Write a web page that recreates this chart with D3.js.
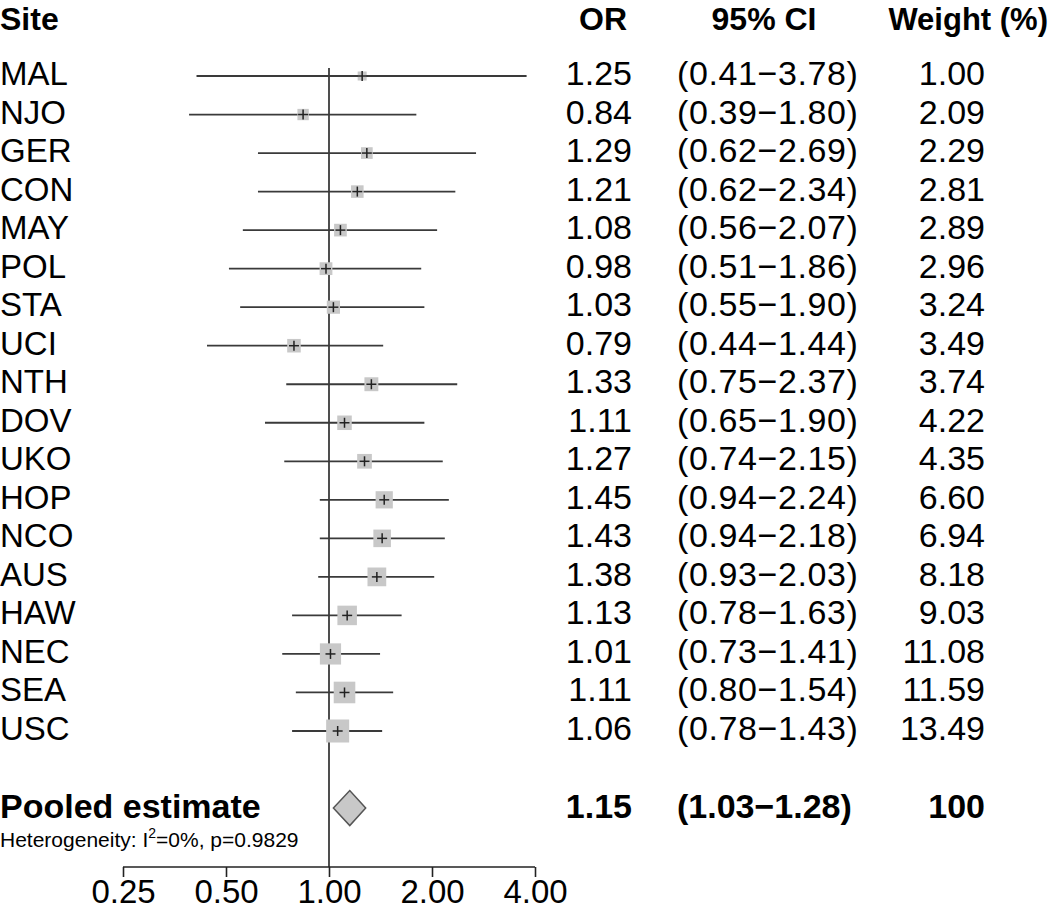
<!DOCTYPE html>
<html><head><meta charset="utf-8">
<script src="https://cdn.jsdelivr.net/npm/d3@7"></script>
<style>html,body{margin:0;padding:0;background:#fff;}svg{display:block;font-family:"Liberation Sans",Arial,Helvetica,sans-serif;}</style>
</head><body>
<svg id="c" width="1050" height="912"></svg>
<script>
const sites = ["MAL","NJO","GER","CON","MAY","POL","STA","UCI","NTH","DOV","UKO","HOP","NCO","AUS","HAW","NEC","SEA","USC"];
const oddsRatios = [1.25,0.84,1.29,1.21,1.08,0.98,1.03,0.79,1.33,1.11,1.27,1.45,1.43,1.38,1.13,1.01,1.11,1.06];
const lowerCI = [0.41,0.39,0.62,0.62,0.56,0.51,0.55,0.44,0.75,0.65,0.74,0.94,0.94,0.93,0.78,0.73,0.80,0.78];
const upperCI = [3.78,1.80,2.69,2.34,2.07,1.86,1.90,1.44,2.37,1.90,2.15,2.24,2.18,2.03,1.63,1.41,1.54,1.43];
const weights = [1.00,2.09,2.29,2.81,2.89,2.96,3.24,3.49,3.74,4.22,4.35,6.60,6.94,8.18,9.03,11.08,11.59,13.49];
const pooled = {label:"Pooled estimate", or:1.15, lo:1.03, hi:1.28, weight:"100"};
const heterogeneity = {i2:"0%", p:"0.9829"};
const headers = ["Site","OR","95% CI","Weight (%)"];
const xTicks = [0.25,0.5,1,2,4];

const svg = d3.select("#c");
const x = d3.scaleLog().base(2).domain([0.25,4]).range([123,535]);
const y = d3.scaleLinear().domain([0,17]).range([76,731]);
const pooledY = y(19);
const box = d3.scaleSqrt().domain([1,13.49]).range([9,23]);
const f2 = d3.format(".2f");

// headers
const hdr = svg.append("g").attr("font-weight","bold").attr("font-size",32).attr("fill","#000");
hdr.append("text").attr("x",0).attr("y",30).text(headers[0]);
hdr.append("text").attr("x",603).attr("y",30).attr("text-anchor","middle").text(headers[1]);
hdr.append("text").attr("x",764).attr("y",30).attr("text-anchor","middle").text(headers[2]);
hdr.append("text").attr("x",1048).attr("y",30).attr("text-anchor","end").attr("font-size",31).text(headers[3]);

// reference line at 1
svg.append("line").attr("x1",x(1)).attr("x2",x(1)).attr("y1",68).attr("y2",867)
  .attr("stroke","#222").attr("stroke-width",1.6);

const rows = sites.map((s,i)=>({s, or:oddsRatios[i], lo:lowerCI[i], hi:upperCI[i], w:weights[i], i}));

const g = svg.append("g");
g.selectAll("line.ci").data(rows).join("line").attr("class","ci")
  .attr("x1",d=>x(d.lo)).attr("x2",d=>x(d.hi)).attr("y1",d=>y(d.i)).attr("y2",d=>y(d.i))
  .attr("stroke","#3a3a3a").attr("stroke-width",1.8);
g.selectAll("rect.box").data(rows).join("rect").attr("class","box")
  .attr("x",d=>x(d.or)-box(d.w)/2).attr("y",d=>y(d.i)-box(d.w)/2)
  .attr("width",d=>box(d.w)).attr("height",d=>box(d.w)).attr("fill","#c8c8c8");
g.selectAll("line.cv").data(rows).join("line").attr("class","cv")
  .attr("x1",d=>x(d.or)).attr("x2",d=>x(d.or)).attr("y1",d=>y(d.i)-5).attr("y2",d=>y(d.i)+5)
  .attr("stroke","#222").attr("stroke-width",1.5);
g.selectAll("line.ch").data(rows).join("line").attr("class","ch")
  .attr("x1",d=>x(d.or)-5).attr("x2",d=>x(d.or)+5).attr("y1",d=>y(d.i)).attr("y2",d=>y(d.i))
  .attr("stroke","#222").attr("stroke-width",1.5);

// text columns
const t = svg.append("g").attr("font-size",34).attr("fill","#000");
t.selectAll("text.site").data(rows).join("text").attr("class","site").attr("font-size",33)
  .attr("x",0).attr("y",d=>y(d.i)+9).text(d=>d.s);
t.selectAll("text.or").data(rows).join("text").attr("class","or")
  .attr("x",632).attr("y",d=>y(d.i)+9).attr("text-anchor","end").text(d=>f2(d.or));
t.selectAll("text.ci").data(rows).join("text").attr("class","ci")
  .attr("x",677).attr("y",d=>y(d.i)+9).attr("letter-spacing",0.6).text(d=>"("+f2(d.lo)+"\u2212"+f2(d.hi)+")");
t.selectAll("text.w").data(rows).join("text").attr("class","w")
  .attr("x",985).attr("y",d=>y(d.i)+9).attr("text-anchor","end").text(d=>f2(d.w));

// pooled
const p = svg.append("g").attr("font-size",34).attr("font-weight","bold").attr("fill","#000");
p.append("text").attr("x",0).attr("y",pooledY+10).text(pooled.label);
p.append("text").attr("x",632).attr("y",pooledY+10).attr("text-anchor","end").text(f2(pooled.or));
p.append("text").attr("x",677).attr("y",pooledY+10).text("("+f2(pooled.lo)+"\u2212"+f2(pooled.hi)+")");
p.append("text").attr("x",985).attr("y",pooledY+10).attr("text-anchor","end").text(pooled.weight);

const dh = 17.5;
svg.append("path")
  .attr("d",`M${x(pooled.lo)},${pooledY}L${x(pooled.or)},${pooledY-dh}L${x(pooled.hi)},${pooledY}L${x(pooled.or)},${pooledY+dh}Z`)
  .attr("fill","#c8c8c8").attr("stroke","#555").attr("stroke-width",1.5);

// heterogeneity
const het = svg.append("text").attr("x",0).attr("y",847).attr("font-size",21).attr("fill","#000");
het.append("tspan").text("Heterogeneity: I");
het.append("tspan").attr("font-size",14).attr("dy",-9).text("2");
het.append("tspan").attr("dy",9).text("=" + heterogeneity.i2 + ", p=" + heterogeneity.p);

// axis
const axis = d3.axisBottom(x).tickValues(xTicks).tickFormat(f2).tickSize(10).tickPadding(3);
const ag = svg.append("g").attr("transform","translate(0,867)").call(axis);
ag.select(".domain").attr("stroke","#222").attr("stroke-width",1.6).attr("d",`M${x(0.25)},0H${x(4)}`);
ag.selectAll(".tick line").attr("stroke","#222").attr("stroke-width",1.6);
ag.selectAll(".tick text").attr("font-size",33).attr("fill","#000").attr("font-family","Liberation Sans, Arial, sans-serif");
</script>
</body></html>
